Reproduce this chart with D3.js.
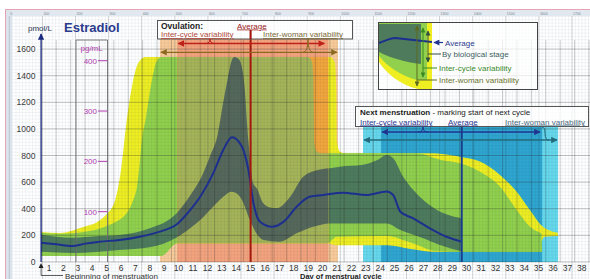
<!DOCTYPE html>
<html>
<head>
<meta charset="utf-8">
<script src="https://cdn.jsdelivr.net/npm/d3@7/dist/d3.min.js"></script>
<style>
body { margin: 0; background: #fff; }
svg { display: block; font-family: "Liberation Sans", Arial, sans-serif; }
</style>
</head>
<body>
<svg id="chart" width="590" height="279"></svg>
<script>
// ---- data (day of cycle, pmol/L) ----
var days = d3.range(1, 39);
var pmolTicks = [0, 200, 400, 600, 800, 1000, 1200, 1400, 1600];
var pgTicks = [100, 200, 300, 400];
var pgFactor = 3.78; // pmol/L per pg/mL, as placed on the drawing

var average = [[0.45,145],[1.5,133],[2.6,120],[3.5,138],[4.5,153],[5.9,165],[7.3,190],[8.7,228],[9.9,285],[10.8,390],[11.5,490],[12.4,666],[13.1,841],[13.7,937],[14.4,866],[14.85,690],[15.2,441],[15.65,303],[16.5,265],[17.3,303],[18.2,415],[19.1,490],[20.05,503],[21.4,521],[23.05,503],[24.45,530],[24.9,503],[25.4,378],[26.3,328],[27.45,253],[28.6,190],[29.66,153]];

// by biological stage
var stageUpper = [[0.45,205],[2.6,183],[4.5,195],[5.9,203],[8.0,253],[9.9,370],[10.8,500],[11.5,620],[12.2,800],[12.7,950],[13.1,1200],[13.4,1370],[13.65,1500],[13.85,1540],[14.1,1530],[14.3,1500],[14.6,1290],[14.75,1040],[14.95,790],[15.15,600],[15.45,550],[15.85,445],[16.35,410],[16.85,405],[17.75,490],[18.65,640],[19.6,690],[20.5,705],[21.2,716],[22.8,730],[23.8,766],[24.45,804],[24.9,780],[25.6,640],[26.75,490],[27.95,390],[29.66,328]];
var stageLower = [[0.45,77],[2.6,68],[5.9,90],[8.0,110],[9.9,185],[10.8,253],[11.5,315],[12.4,415],[13.1,490],[13.65,528],[13.95,520],[14.4,466],[14.95,315],[15.4,216],[15.9,165],[17.0,153],[18.2,216],[19.35,265],[20.5,290],[22.6,290],[24.45,290],[25.4,240],[27.0,178],[28.15,128],[29.66,80]];

// inter-cycle variability
var cycleUpper = [[0.45,220],[1.8,212],[3.4,225],[5.0,270],[6.4,368],[6.85,466],[7.1,560],[7.3,740],[7.45,917],[7.7,1067],[8.15,1367],[8.45,1500],[8.8,1540],[19.0,1540],[19.25,1510],[19.35,1400],[19.42,900],[19.6,830],[20.0,816],[26.5,816],[28.15,768],[29.54,741],[30.93,678],[32.32,566],[33.48,391],[34.4,265],[35.2,216]];
var cycleLower = [[0.45,45],[8.8,45],[9.9,140],[20.3,140],[21.0,190],[24.5,195],[26.0,150],[28.0,80],[29.6,75],[35.25,75]];

// inter-woman variability
var womanUpper = [[0.45,225],[1.8,218],[3.15,255],[4.55,315],[4.95,353],[5.6,466],[6.0,691],[6.4,1067],[6.85,1367],[7.2,1495],[7.7,1540],[20.5,1540],[20.85,1500],[20.95,1300],[21.0,900],[21.2,830],[21.6,816],[27.5,816],[28.15,814],[29.54,791],[30.93,754],[32.32,654],[33.48,528],[34.4,391],[35.3,265],[36.33,220]];
var womanLower = [[0.45,45],[8.7,45],[9.9,140],[20.3,140],[21.0,125],[24.5,125],[26.0,100],[28.0,75],[34.9,75],[35.4,190],[36.35,195]];

var ovulationAverage = 15, ovulationCycle = [9.9, 20.4], ovulationWoman = [8.7, 21.07];
var mensAverage = 29.66, mensCycle = [24.06, 35.24], mensWoman = [22.81, 36.35];

var svg = d3.select("#chart"),
	width = +svg.attr("width"),
	height = +svg.attr("height");

var x = d3.scaleLinear().domain([1, 38]).range([49, 581.8]);
var y = d3.scaleLinear().domain([0, 1600]).range([262, 49]);

var defs = svg.append("defs");
function marker(id, color) {
	defs.append("marker").attr("id", id)
		.attr("viewBox", "0 0 10 10").attr("refX", 9).attr("refY", 5)
		.attr("markerWidth", 6).attr("markerHeight", 5)
		.attr("orient", "auto-start-reverse")
		.append("path").attr("d", "M0,0L10,5L0,10z").attr("fill", color);
}
marker("aRed", "#c0201a");
marker("aBrown", "#8a6a20");
marker("aNavy", "#1f3590");
marker("aTeal", "#226b7c");
marker("aAxis", "#1a2a80");
marker("aLegDark", "#2f4f3f");
marker("aLegGreen", "#3a8a20");
marker("aLegOlive", "#5d6a20");
marker("aLegNavy", "#1f3590");

svg.append("rect").attr("width", width).attr("height", height).attr("fill", "#fff");

// rulers of the drawing canvas
svg.append("rect").attr("x", 6).attr("y", 10).attr("width", width).attr("height", 6).attr("fill", "#e2e8ef");
svg.append("rect").attr("x", 6).attr("y", 10).attr("width", 6).attr("height", height).attr("fill", "#dbe4ed");
svg.append("line").attr("x1", 5).attr("x2", width).attr("y1", 9.5).attr("y2", 9.5).attr("stroke", "#e7a3b3");
svg.append("line").attr("x1", 5.5).attr("x2", 5.5).attr("y1", 9.5).attr("y2", height).attr("stroke", "#e7a3b3");
svg.selectAll(".rul").data(d3.range(0, 18)).enter().append("text")
	.attr("x", function(k) { return 9.3 + 33.1 * k + 1; }).attr("y", 14.5)
	.attr("font-size", 3.5).attr("fill", "#7d8590")
	.text(function(k) { return k * 100; });

// ovulation and next-menstruation ranges (behind the curves)
svg.append("rect").attr("x", x(mensWoman[0])).attr("width", x(mensWoman[1]) - x(mensWoman[0]))
	.attr("y", 127).attr("height", 262 - 127).attr("fill", "#66d8ec");
svg.append("rect").attr("x", x(mensCycle[0])).attr("width", x(mensCycle[1]) - x(mensCycle[0]))
	.attr("y", 127).attr("height", 262 - 127).attr("fill", "#2fa6d0");
svg.append("rect").attr("x", x(ovulationWoman[0])).attr("width", x(ovulationWoman[1]) - x(ovulationWoman[0]))
	.attr("y", 39).attr("height", 262 - 39).attr("fill", "#f9cb99");
svg.append("rect").attr("x", x(ovulationCycle[0])).attr("width", x(ovulationCycle[1]) - x(ovulationCycle[0]))
	.attr("y", 39).attr("height", 262 - 39).attr("fill", "#f4a37d");

var edge = d3.line().x(function(d) { return x(d[0]); }).y(function(d) { return y(d[1]); }).curve(d3.curveMonotoneX);
function band(upper, lower) {
	return edge(upper) + edge(lower.slice().reverse()).replace(/^M/, "L") + "Z";
}

function bands(g, cYellow, cGreen, cDark) {
	g.append("path").attr("d", band(womanUpper, womanLower)).attr("fill", cYellow);
	g.append("path").attr("d", band(cycleUpper, cycleLower)).attr("fill", cGreen);
	g.append("path").attr("d", band(stageUpper, stageLower)).attr("fill", cDark);
}
bands(svg.append("g"), "#eeee22", "#91d04c", "#4e7b5c");

// same bands seen through the inter-cycle ovulation range
defs.append("clipPath").attr("id", "ovClip").append("rect")
	.attr("x", x(ovulationCycle[0])).attr("width", x(ovulationCycle[1]) - x(ovulationCycle[0]))
	.attr("y", 39).attr("height", 262 - 39);
bands(svg.append("g").attr("clip-path", "url(#ovClip)"), "#f2a53c", "#a6b458", "#56685a");

// canvas grid
var grid = svg.append("g");
grid.selectAll(".fv").data(d3.range(12.6, width, 3.31)).enter().append("line")
	.attr("x1", function(d) { return d; }).attr("x2", function(d) { return d; })
	.attr("y1", 16).attr("y2", height)
	.attr("stroke", "rgba(40,70,100,0.1)").attr("stroke-width", 0.6);
grid.selectAll(".fh").data(d3.range(16.5, height, 3.31)).enter().append("line")
	.attr("y1", function(d) { return d; }).attr("y2", function(d) { return d; })
	.attr("x1", 12).attr("x2", width)
	.attr("stroke", "rgba(40,70,100,0.1)").attr("stroke-width", 0.6);
grid.selectAll(".mv").data(d3.range(9.3, width, 33.1)).enter().append("line")
	.attr("x1", function(d) { return d; }).attr("x2", function(d) { return d; })
	.attr("y1", 16).attr("y2", height)
	.attr("stroke", "rgba(40,50,70,0.22)").attr("stroke-width", 0.8);

// chart grid
grid.selectAll(".dv").data(d3.range(0, 39)).enter().append("line")
	.attr("x1", function(d) { return x(d + 0.5); }).attr("x2", function(d) { return x(d + 0.5); })
	.attr("y1", 40).attr("y2", 262)
	.attr("stroke", "rgba(30,30,30,0.28)").attr("stroke-width", 0.8);
grid.selectAll(".hv").data(pmolTicks).enter().append("line")
	.attr("y1", function(d) { return y(d); }).attr("y2", function(d) { return y(d); })
	.attr("x1", x(0.45)).attr("x2", width)
	.attr("stroke", "rgba(30,30,30,0.32)").attr("stroke-width", 0.8);

// pg/mL frame
svg.append("path").attr("d", "M76,262V40H107.5V262").attr("fill", "none").attr("stroke", "#6b6b6b").attr("stroke-width", 0.9);

// average curve
svg.append("path").attr("d", edge(average)).attr("fill", "none")
	.attr("stroke", "#1c2f8f").attr("stroke-width", 2);

// average ovulation and next menstruation
svg.append("line").attr("x1", x(ovulationAverage)).attr("x2", x(ovulationAverage))
	.attr("y1", 30).attr("y2", 262).attr("stroke", "#a3180e").attr("stroke-width", 2);
svg.append("line").attr("x1", x(mensAverage)).attr("x2", x(mensAverage))
	.attr("y1", 126).attr("y2", 262).attr("stroke", "#1a3c8c").attr("stroke-width", 2);

// ovulation box
svg.append("rect").attr("x", 157.5).attr("y", 20.5).attr("width", 195).attr("height", 18.5)
	.attr("fill", "rgba(255,255,255,0.75)").attr("stroke", "#555").attr("stroke-width", 1);
svg.append("line").attr("x1", x(ovulationAverage)).attr("x2", x(ovulationAverage))
	.attr("y1", 30).attr("y2", 39).attr("stroke", "#a3180e").attr("stroke-width", 2);
svg.append("text").attr("x", 161).attr("y", 29).attr("font-size", 8.5).attr("font-weight", "bold").attr("fill", "#222").text("Ovulation:");
svg.append("text").attr("x", 237).attr("y", 28.5).attr("font-size", 8).attr("fill", "#9a2020").attr("text-decoration", "underline").text("Average");
svg.append("text").attr("x", 161).attr("y", 37).attr("font-size", 8).attr("fill", "#b04a3a").attr("text-decoration", "underline").text("Inter-cycle variability");
svg.append("text").attr("x", 263).attr("y", 37).attr("font-size", 8).attr("fill", "#7a6a38").attr("text-decoration", "underline").text("Inter-woman variability");
svg.append("line").attr("x1", x(ovulationCycle[0]) + 1).attr("x2", x(ovulationCycle[1]) - 4)
	.attr("y1", 43.5).attr("y2", 43.5).attr("stroke", "#c0201a").attr("stroke-width", 1.3)
	.attr("marker-start", "url(#aRed)").attr("marker-end", "url(#aRed)");
svg.append("line").attr("x1", x(ovulationWoman[0]) + 1).attr("x2", x(ovulationWoman[1]) - 1)
	.attr("y1", 52.3).attr("y2", 52.3).attr("stroke", "#8a6a20").attr("stroke-width", 1.3)
	.attr("marker-start", "url(#aBrown)").attr("marker-end", "url(#aBrown)");
svg.append("path").attr("d", "M205,43.5Q210,43.5 210,39Q210,43.5 215,43.5").attr("fill", "none").attr("stroke", "#c0201a").attr("stroke-width", 1);
svg.append("path").attr("d", "M303,52.3Q308,52.3 308,39Q308,52.3 313,52.3").attr("fill", "none").attr("stroke", "#8a6a20").attr("stroke-width", 1);

// next menstruation box
svg.append("rect").attr("x", 355.5).attr("y", 106.5).attr("width", 233).attr("height", 20)
	.attr("fill", "rgba(255,255,255,0.75)").attr("stroke", "#555").attr("stroke-width", 1);
var nm = svg.append("text").attr("x", 360).attr("y", 115).attr("font-size", 8).attr("fill", "#222");
nm.append("tspan").attr("font-weight", "bold").text("Next menstruation");
nm.append("tspan").text(" - marking start of next cycle");
svg.append("text").attr("x", 360).attr("y", 124.5).attr("font-size", 8).attr("fill", "#2b3990").attr("text-decoration", "underline").text("Inter-cycle variability");
svg.append("text").attr("x", 448).attr("y", 124.5).attr("font-size", 8).attr("fill", "#2b3990").attr("text-decoration", "underline").text("Average");
svg.append("text").attr("x", 505).attr("y", 124.5).attr("font-size", 8).attr("fill", "#4a6a80").attr("text-decoration", "underline").text("Inter-woman variability");
svg.append("line").attr("x1", x(mensCycle[0]) + 1).attr("x2", x(mensCycle[1]) - 2)
	.attr("y1", 132).attr("y2", 132).attr("stroke", "#1f3590").attr("stroke-width", 1.3)
	.attr("marker-start", "url(#aNavy)").attr("marker-end", "url(#aNavy)");
svg.append("line").attr("x1", x(mensWoman[0]) + 1).attr("x2", x(mensWoman[1]) - 1)
	.attr("y1", 140).attr("y2", 140).attr("stroke", "#226b7c").attr("stroke-width", 1.3)
	.attr("marker-start", "url(#aTeal)").attr("marker-end", "url(#aTeal)");
svg.append("path").attr("d", "M418,132Q423,132 423,127Q423,132 428,132").attr("fill", "none").attr("stroke", "#1f3590").attr("stroke-width", 1);
svg.append("path").attr("d", "M542,127Q545,127 545,133.5Q545,140 549,140").attr("fill", "none").attr("stroke", "#226b7c").attr("stroke-width", 1);

// legend
var lg = svg.append("g");
lg.append("rect").attr("x", 378.5).attr("y", 22.5).attr("width", 159).attr("height", 67)
	.attr("fill", "rgba(255,255,255,0.7)").attr("stroke", "#444").attr("stroke-width", 1);
lg.append("path").attr("d", "M379,23H432V89H418C400,85 386,73 379,62Z").attr("fill", "#eeee22");
lg.append("path").attr("d", "M379,23H427V80H417C401,76 387,66 379,56Z").attr("fill", "#91d04c");
lg.append("path").attr("d", "M379,24H421V64C405,62 391,58 379,52Z").attr("fill", "#4e7b5c");
lg.append("path").attr("d", "M379,43C385,41 390,38 395,38L432,42").attr("fill", "none").attr("stroke", "#1c2f8f").attr("stroke-width", 2);
lg.append("line").attr("x1", 417).attr("x2", 417).attr("y1", 26).attr("y2", 86).attr("stroke", "#5d6a20").attr("stroke-width", 1)
	.attr("marker-start", "url(#aLegOlive)").attr("marker-end", "url(#aLegOlive)");
lg.append("line").attr("x1", 423).attr("x2", 423).attr("y1", 28).attr("y2", 77).attr("stroke", "#3a8a20").attr("stroke-width", 1)
	.attr("marker-start", "url(#aLegGreen)").attr("marker-end", "url(#aLegGreen)");
lg.append("line").attr("x1", 428).attr("x2", 428).attr("y1", 31).attr("y2", 62).attr("stroke", "#2f4f3f").attr("stroke-width", 1)
	.attr("marker-start", "url(#aLegDark)").attr("marker-end", "url(#aLegDark)");
lg.append("line").attr("x1", 443).attr("x2", 434).attr("y1", 42.5).attr("y2", 42.5).attr("stroke", "#1f3590").attr("stroke-width", 1.2).attr("marker-end", "url(#aLegNavy)");
lg.append("line").attr("x1", 428).attr("x2", 441).attr("y1", 54).attr("y2", 54).attr("stroke", "#2f4f3f").attr("stroke-width", 1);
lg.append("line").attr("x1", 423).attr("x2", 437).attr("y1", 68).attr("y2", 68).attr("stroke", "#3a8a20").attr("stroke-width", 1);
lg.append("line").attr("x1", 417).attr("x2", 437).attr("y1", 80).attr("y2", 80).attr("stroke", "#5d6a20").attr("stroke-width", 1);
lg.append("text").attr("x", 445).attr("y", 45.5).attr("font-size", 8).attr("fill", "#2b3990").text("Average");
lg.append("text").attr("x", 442).attr("y", 57).attr("font-size", 8).attr("fill", "#3d6060").text("By biological stage");
lg.append("text").attr("x", 439).attr("y", 71).attr("font-size", 8).attr("fill", "#3a8a2a").text("Inter-cycle variability");
lg.append("text").attr("x", 439).attr("y", 83).attr("font-size", 8).attr("fill", "#6a7430").text("Inter-woman variability");

// y axis
svg.append("line").attr("x1", x(0.45)).attr("x2", x(0.45)).attr("y1", 262).attr("y2", 34)
	.attr("stroke", "#1a2a80").attr("stroke-width", 1.3).attr("marker-end", "url(#aAxis)");
svg.selectAll(".yl").data(pmolTicks).enter().append("text")
	.attr("x", 35.5).attr("y", function(d) { return y(d) + 3; })
	.attr("text-anchor", "end").attr("font-size", 8.5).attr("fill", "#3a3a3a")
	.text(function(d) { return d; });
svg.append("text").attr("x", 28).attr("y", 31).attr("font-size", 8).attr("fill", "#2a3450").text("pmol/L");
svg.append("text").attr("x", 64).attr("y", 32).attr("font-size", 13).attr("font-weight", "bold").attr("fill", "#2a3a8c").text("Estradiol");

// pg/mL scale
svg.append("text").attr("x", 80.5).attr("y", 51).attr("font-size", 8).attr("fill", "#b03cb0").text("pg/mL");
svg.selectAll(".pl").data(pgTicks).enter().append("text")
	.attr("x", 97).attr("y", function(d) { return y(d * pgFactor) + 3; })
	.attr("text-anchor", "end").attr("font-size", 8).attr("fill", "#b03cb0")
	.text(function(d) { return d; });
svg.selectAll(".pt").data(pgTicks).enter().append("line")
	.attr("x1", 98).attr("x2", 107.5)
	.attr("y1", function(d) { return y(d * pgFactor); }).attr("y2", function(d) { return y(d * pgFactor); })
	.attr("stroke", "#b03cb0").attr("stroke-width", 1);

// x axis
svg.selectAll(".xl").data(days).enter().append("text")
	.attr("x", function(d) { return x(d); }).attr("y", 270.5)
	.attr("text-anchor", "middle").attr("font-size", 8.5).attr("fill", "#333")
	.text(function(d) { return d; });
svg.append("path").attr("d", "M" + x(0.45) + ",263l-2.5,5h5z").attr("fill", "#222");
svg.append("path").attr("d", "M" + x(0.45) + ",268V275.5H63").attr("fill", "none").attr("stroke", "#333").attr("stroke-width", 0.8);
svg.append("text").attr("x", 65).attr("y", 278.5).attr("font-size", 8).attr("fill", "#333").text("Beginning of menstruation");
svg.append("text").attr("x", 300).attr("y", 278.5).attr("font-size", 7.5).attr("font-weight", "bold").attr("fill", "#222").text("Day of menstrual cycle");
</script>
</body>
</html>
